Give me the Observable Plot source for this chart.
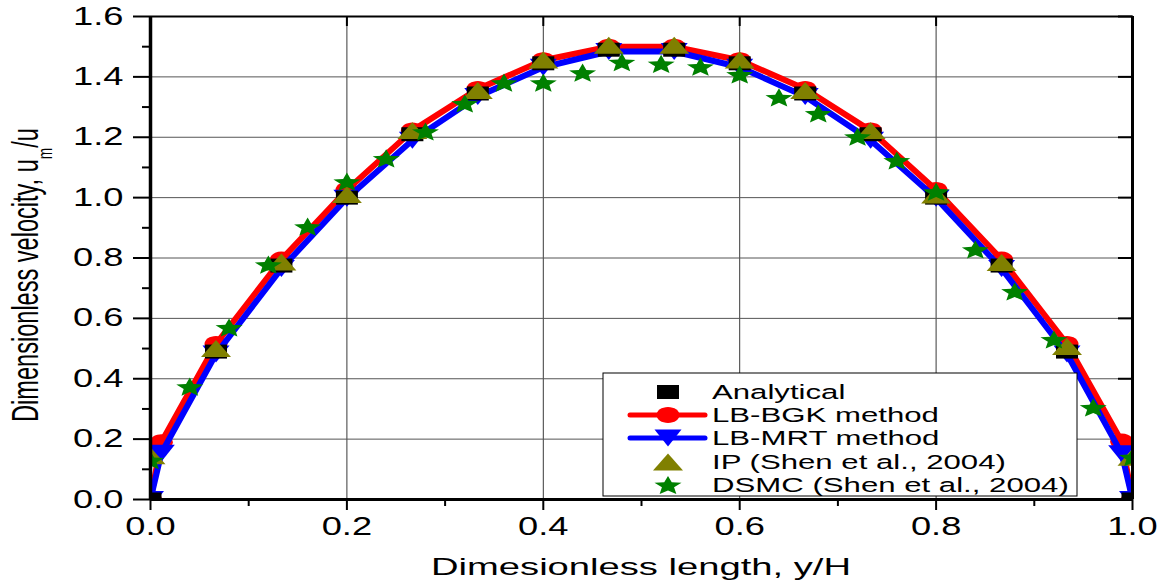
<!DOCTYPE html>
<html><head><meta charset="utf-8">
<script src="https://cdn.jsdelivr.net/npm/d3@7"></script>
<script src="https://cdn.jsdelivr.net/npm/@observablehq/plot@0.6"></script>
<style>html,body{margin:0;padding:0;background:#fff;} svg{display:block}</style>
</head><body><div id="chart"></div>
<script>
// ---------- data ----------
const xDomain = [0, 1];
const yDomain = [0, 1.6];
const xMajorTicks = [0, 0.2, 0.4, 0.6, 0.8, 1.0];
const xMinorTicks = [0.1, 0.3, 0.5, 0.7, 0.9];
const yMajorTicks = [0, 0.2, 0.4, 0.6, 0.8, 1.0, 1.2, 1.4, 1.6];
const yMinorTicks = [0.1, 0.3, 0.5, 0.7, 0.9, 1.1, 1.3, 1.5];
const xGrid = [0.2, 0.4, 0.6, 0.8];
const yGrid = [0.2, 0.4, 0.6, 0.8, 1.0, 1.2, 1.4];

const lbX  = [0, 0.011, 0.0667, 0.1333, 0.2, 0.2667, 0.3333, 0.4, 0.4667, 0.5333, 0.6, 0.6667, 0.7333, 0.8, 0.8667, 0.9333, 0.989, 1];
const bgkU = [0, 0.19, 0.515, 0.795, 1.025, 1.222, 1.36, 1.455, 1.50, 1.50, 1.455, 1.36, 1.222, 1.025, 0.795, 0.515, 0.192, 0];
const mrtU = [0, 0.153, 0.482, 0.765, 0.998, 1.19, 1.335, 1.432, 1.484, 1.484, 1.432, 1.335, 1.19, 0.998, 0.765, 0.482, 0.152, 0];

const analyticalX = [0, 0.0667, 0.1333, 0.2, 0.2667, 0.3333, 0.4, 0.4667, 0.5333, 0.6, 0.6667, 0.7333, 0.8, 0.8667, 0.9333, 1];
const analyticalU = [0, 0.49, 0.775, 1.0, 1.21, 1.345, 1.445, 1.49, 1.49, 1.445, 1.345, 1.21, 1.0, 0.775, 0.49, 0];

const ipX = [0, 0.0667, 0.1333, 0.2, 0.2667, 0.3333, 0.4, 0.4667, 0.5333, 0.6, 0.6667, 0.7333, 0.8, 0.8667, 0.9333, 1];
const ipU = [0.145, 0.50, 0.787, 1.01, 1.222, 1.355, 1.456, 1.505, 1.505, 1.456, 1.355, 1.222, 1.009, 0.785, 0.507, 0.14];

const dsmcX = [0, 0.04, 0.08, 0.12, 0.16, 0.2, 0.24, 0.28, 0.32, 0.36, 0.4, 0.44, 0.48, 0.52, 0.56, 0.6, 0.64, 0.68, 0.72, 0.76, 0.8, 0.84, 0.88, 0.92, 0.96, 1];
const dsmcU = [0.13, 0.374, 0.570, 0.778, 0.904, 1.053, 1.13, 1.219, 1.312, 1.381, 1.381, 1.414, 1.449, 1.443, 1.434, 1.408, 1.332, 1.279, 1.202, 1.123, 1.02, 0.828, 0.689, 0.530, 0.305, 0.14];

const seriesNames = ["Analytical", "LB-BGK method", "LB-MRT method", "IP (Shen et al., 2004)", "DSMC (Shen et al., 2004)"];
const xLabel = "Dimesionless length, y/H";
const yLabelMain = "Dimensionless velocity, u";
const yLabelSub = "m";
const yLabelEnd = "/u";

// ---------- helpers ----------
const rows = (xs, ys) => xs.map((x, i) => ({x, u: ys[i]}));
const bgk = rows(lbX, bgkU), mrt = rows(lbX, mrtU);
const analytical = rows(analyticalX, analyticalU);
const ip = rows(ipX, ipU), dsmc = rows(dsmcX, dsmcU);

function polySym(pts) {
  return {draw(ctx, size) {
    const r = Math.sqrt(size / Math.PI);
    pts.forEach(([px, py], i) => i ? ctx.lineTo(px * r, py * r) : ctx.moveTo(px * r, py * r));
    ctx.closePath();
  }};
}
function ellipseSym(sx, sy) {
  return {draw(ctx, size) {
    const r = Math.sqrt(size / Math.PI), a = sx * r, b = sy * r, k = 0.5523;
    ctx.moveTo(a, 0);
    ctx.bezierCurveTo(a, k * b, k * a, b, 0, b);
    ctx.bezierCurveTo(-k * a, b, -a, k * b, -a, 0);
    ctx.bezierCurveTo(-a, -k * b, -k * a, -b, 0, -b);
    ctx.bezierCurveTo(k * a, -b, a, -k * b, a, 0);
    ctx.closePath();
  }};
}
function starPts(R, ratio, sx) {
  const p = [], off = (R - R * Math.cos(Math.PI / 5)) / 2;
  for (let k = 0; k < 10; k++) {
    const ang = -Math.PI / 2 + k * Math.PI / 5, rad = k % 2 ? R * ratio : R;
    p.push([rad * Math.cos(ang) * sx, rad * Math.sin(ang) + off]);
  }
  return p;
}
const squareSym = polySym([[-1.375, -0.875], [1.375, -0.875], [1.375, 0.875], [-1.375, 0.875]]);
const circleSym = ellipseSym(1.44, 1.0);
const downTriSym = polySym([[0, 1.06], [1.69, -1.06], [-1.69, -1.06]]);
const upTriSym = polySym([[0, -1.06], [1.875, 1.06], [-1.875, 1.06]]);
const starSym = polySym(starPts(1.25, 0.45, 1.42));

const RED = "#ff0000", BLUE = "#0000ff", OLIVE = "#808000", GREEN = "#008000";
const fmt = d3.format(".1f");
const blank = () => "";
const R = 8;

const plot = Plot.plot({
  width: 1166, height: 584,
  marginLeft: 150, marginRight: 34, marginTop: 16, marginBottom: 85,
  x: {domain: xDomain}, y: {domain: yDomain},
  style: {fontFamily: "'Liberation Sans', Arial, sans-serif", fontSize: "24px", background: "#fff", color: "#000"},
  marks: [
    Plot.gridX(xGrid, {stroke: "#3a3a3a", strokeOpacity: 1, strokeWidth: 1}),
    Plot.gridY(yGrid, {stroke: "#555", strokeOpacity: 1, strokeWidth: 1}),
    Plot.axisY(yMajorTicks, {anchor: "left", tickSize: 17, tickPadding: 10, tickFormat: fmt, label: null, fontSize: 25, strokeWidth: 2}),
    Plot.axisY(yMinorTicks, {anchor: "left", tickSize: 8, tickFormat: blank, label: null, strokeWidth: 2}),
    Plot.axisX(xMajorTicks, {anchor: "bottom", tickSize: 11, tickPadding: 7, tickFormat: fmt, label: null, fontSize: 25, strokeWidth: 2}),
    Plot.axisX(xMinorTicks, {anchor: "bottom", tickSize: 7, tickFormat: blank, label: null, strokeWidth: 2}),
    Plot.axisY(yMajorTicks, {anchor: "right", tickSize: 15, dx: -15, tickFormat: blank, label: null, strokeWidth: 2}),
    Plot.axisX(xMajorTicks, {anchor: "top", tickSize: 9, dy: 9, tickFormat: blank, label: null, strokeWidth: 2}),

    Plot.line(bgk, {x: "x", y: "u", stroke: RED, strokeWidth: 6, clip: true}),
    Plot.dot(bgk, {x: "x", y: "u", r: R, symbol: circleSym, fill: RED, clip: true}),
    Plot.line(mrt, {x: "x", y: "u", stroke: BLUE, strokeWidth: 6, clip: true}),
    Plot.dot(mrt, {x: "x", y: "u", r: R, symbol: downTriSym, fill: BLUE, clip: true}),
    Plot.dot(analytical, {x: "x", y: "u", r: R, symbol: squareSym, fill: "#000", clip: true}),
    Plot.dot(ip, {x: "x", y: "u", r: R, symbol: upTriSym, fill: OLIVE, clip: true}),
    Plot.dot(dsmc, {x: "x", y: "u", r: R, symbol: starSym, fill: GREEN, clip: true}),

    Plot.ruleX([xDomain[0]], {stroke: "#000", strokeWidth: 3.5}),
    Plot.ruleX([xDomain[1]], {stroke: "#000", strokeWidth: 3}),
    Plot.ruleY([yDomain[0]], {stroke: "#000", strokeWidth: 3}),
    Plot.ruleY([yDomain[1]], {stroke: "#000", strokeWidth: 2})
  ]
});
document.getElementById("chart").appendChild(plot);

const svg = d3.select(plot);
function stretch(sel, k) {
  sel.each(function() {
    const L = this.getComputedTextLength();
    if (L > 0) { this.setAttribute("textLength", L * k); this.setAttribute("lengthAdjust", "spacingAndGlyphs"); }
  });
}
stretch(svg.selectAll("text"), 1.45);

const FONT = "'Liberation Sans', Arial, sans-serif";
// x label
const xl = svg.append("text").attr("x", 641).attr("y", 575).attr("text-anchor", "middle")
  .attr("font-family", FONT).attr("font-size", 24).attr("fill", "#000").text(xLabel);
xl.attr("textLength", 420).attr("lengthAdjust", "spacingAndGlyphs");

// y label (rotated, with subscript)
const yl = svg.append("text").attr("text-anchor", "middle").attr("font-family", FONT)
  .attr("font-size", 24).attr("fill", "#000");
yl.append("tspan").text(yLabelMain);
yl.append("tspan").attr("font-size", 14).attr("dy", 9).text(yLabelSub);
yl.append("tspan").attr("dy", -9).text(yLabelEnd);
const yLen = yl.node().getComputedTextLength();
yl.attr("transform", `translate(38,275) rotate(-90) scale(${294 / yLen},1.5)`);

// legend
const lg = svg.append("g").attr("text-anchor", "start");
lg.append("rect").attr("x", 603).attr("y", 373).attr("width", 474).attr("height", 123)
  .attr("fill", "#fff").attr("stroke", "#000").attr("stroke-width", 1);
const rowsY = [392, 415, 438, 462, 485];
const legendSyms = [squareSym, circleSym, downTriSym, upTriSym, starSym];
const legendCols = ["#000", RED, BLUE, OLIVE, GREEN];
const legendLines = [false, true, true, false, false];
seriesNames.forEach((name, i) => {
  const cy = rowsY[i];
  if (legendLines[i]) lg.append("line").attr("x1", 630).attr("x2", 705).attr("y1", cy).attr("y2", cy)
    .attr("stroke", legendCols[i]).attr("stroke-width", 5).attr("stroke-linecap", "round");
  lg.append("path").attr("transform", `translate(668,${cy})`)
    .attr("d", d3.symbol(legendSyms[i], R * R * Math.PI)()).attr("fill", legendCols[i]);
  const t = lg.append("text").attr("x", 712).attr("y", cy).attr("dy", "0.36em")
    .attr("text-anchor", "start")
    .attr("font-family", FONT).attr("font-size", 20.5).attr("fill", "#000").text(name);
  stretch(t, 1.52);
});
</script>
</body></html>
